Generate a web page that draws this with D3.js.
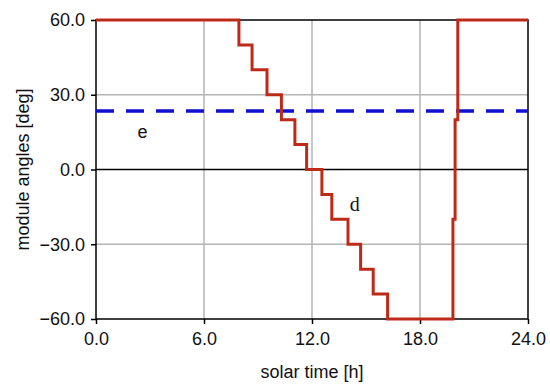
<!DOCTYPE html>
<html>
<head>
<meta charset="utf-8">
<script src="https://cdn.jsdelivr.net/npm/d3@7"></script>
<style>
  body { margin: 0; background: #fff; }
  text { font-family: "Liberation Sans", Arial, sans-serif; fill: #111; }
</style>
</head>
<body>
<div id="chart"></div>
<script>
// tick values
var xTicks = [0, 6, 12, 18, 24]
var yTicks = [-60, -30, 0, 30, 60]
var xTickLabels = ["0.0", "6.0", "12.0", "18.0", "24.0"]
var yTickLabels = ["\u221260.0", "\u221230.0", "0.0", "30.0", "60.0"]

// d: tracking angle steps (solar time, angle)
var stepTimes  = [0, 7.94, 8.67, 9.5, 10.3, 11.05, 11.7, 12.55, 13.1, 14.0, 14.7, 15.4, 16.2, 19.83, 19.95, 20.1]
var stepAngles = [60, 50, 40, 30, 20, 10, 0, -10, -20, -30, -40, -50, -60, -20, 20, 60]

// e: fixed tilt
var fixedAngle = 23.45

var margin = {top: 20, right: 22, bottom: 70, left: 96},
    width  = 550 - margin.left - margin.right,
    height = 389 - margin.top - margin.bottom

var svg = d3.select("#chart").append("svg")
  .attr("width", 550)
  .attr("height", 389)

var g = svg.append("g")
  .attr("transform", "translate(" + margin.left + "," + margin.top + ")")

var x = d3.scaleLinear().domain([0, 24]).range([0, width])
var y = d3.scaleLinear().domain([-60, 60]).range([height, 0])

// grid
g.selectAll(".vgrid").data(xTicks.slice(1, -1)).enter().append("line")
  .attr("x1", d => x(d)).attr("x2", d => x(d))
  .attr("y1", 0).attr("y2", height)
  .attr("stroke", "#b4b4b4").attr("stroke-width", 1.5)

g.selectAll(".hgrid").data(yTicks.filter(d => d != 0 && Math.abs(d) != 60)).enter().append("line")
  .attr("x1", 0).attr("x2", width)
  .attr("y1", d => y(d)).attr("y2", d => y(d))
  .attr("stroke", "#b4b4b4").attr("stroke-width", 1.5)

// zero line
g.append("line")
  .attr("x1", 0).attr("x2", width)
  .attr("y1", y(0)).attr("y2", y(0))
  .attr("stroke", "#000").attr("stroke-width", 1.5)

// frame
g.append("rect")
  .attr("width", width).attr("height", height)
  .attr("fill", "none").attr("stroke", "#000").attr("stroke-width", 1.5)

// axes
var xAxis = g.append("g")
  .attr("transform", "translate(0," + height + ")")
  .call(d3.axisBottom(x).tickValues(xTicks).tickSize(5).tickPadding(8)
    .tickFormat((d, i) => xTickLabels[i]))
var yAxis = g.append("g")
  .call(d3.axisLeft(y).tickValues(yTicks).tickSize(5).tickPadding(6)
    .tickFormat((d, i) => yTickLabels[i]))

;[xAxis, yAxis].forEach(a => {
  a.select(".domain").remove()
  a.selectAll(".tick line").attr("stroke", "#000").attr("stroke-width", 1.5)
  a.selectAll(".tick text")
    .style("font-family", "Liberation Sans, Arial, sans-serif")
    .style("font-size", "18px").attr("fill", "#111")
})

// e line
g.append("line")
  .attr("x1", x(0)).attr("x2", x(24))
  .attr("y1", y(fixedAngle)).attr("y2", y(fixedAngle))
  .attr("stroke", "#1010d0").attr("stroke-width", 3.5)
  .attr("stroke-dasharray", "18,12")

// d step line
var stepData = stepTimes.map((t, i) => ({x: t, y: stepAngles[i]}))
stepData.push({x: 24, y: stepAngles[stepAngles.length - 1]})

var line = d3.line()
  .x(d => x(d.x))
  .y(d => y(d.y))
  .curve(d3.curveStepAfter)

g.append("path")
  .datum(stepData)
  .attr("fill", "none")
  .attr("stroke", "#bd2a18")
  .attr("stroke-width", 3)
  .attr("d", line)

// curve labels
g.append("text")
  .attr("x", x(2.3)).attr("y", y(12.5))
  .style("font-size", "18px")
  .text("e")

g.append("text")
  .attr("x", x(14.1)).attr("y", y(-16.5))
  .style("font-family", "Liberation Serif, Times New Roman, serif")
  .style("font-size", "20px")
  .text("d")

// axis titles
svg.append("text")
  .attr("x", margin.left + width / 2).attr("y", 378)
  .attr("text-anchor", "middle")
  .style("font-size", "18px")
  .text("solar time [h]")

svg.append("text")
  .attr("transform", "translate(29," + (margin.top + y(0)) + ") rotate(-90)")
  .attr("text-anchor", "middle")
  .style("font-size", "18px")
  .text("module angles [deg]")
</script>
</body>
</html>
